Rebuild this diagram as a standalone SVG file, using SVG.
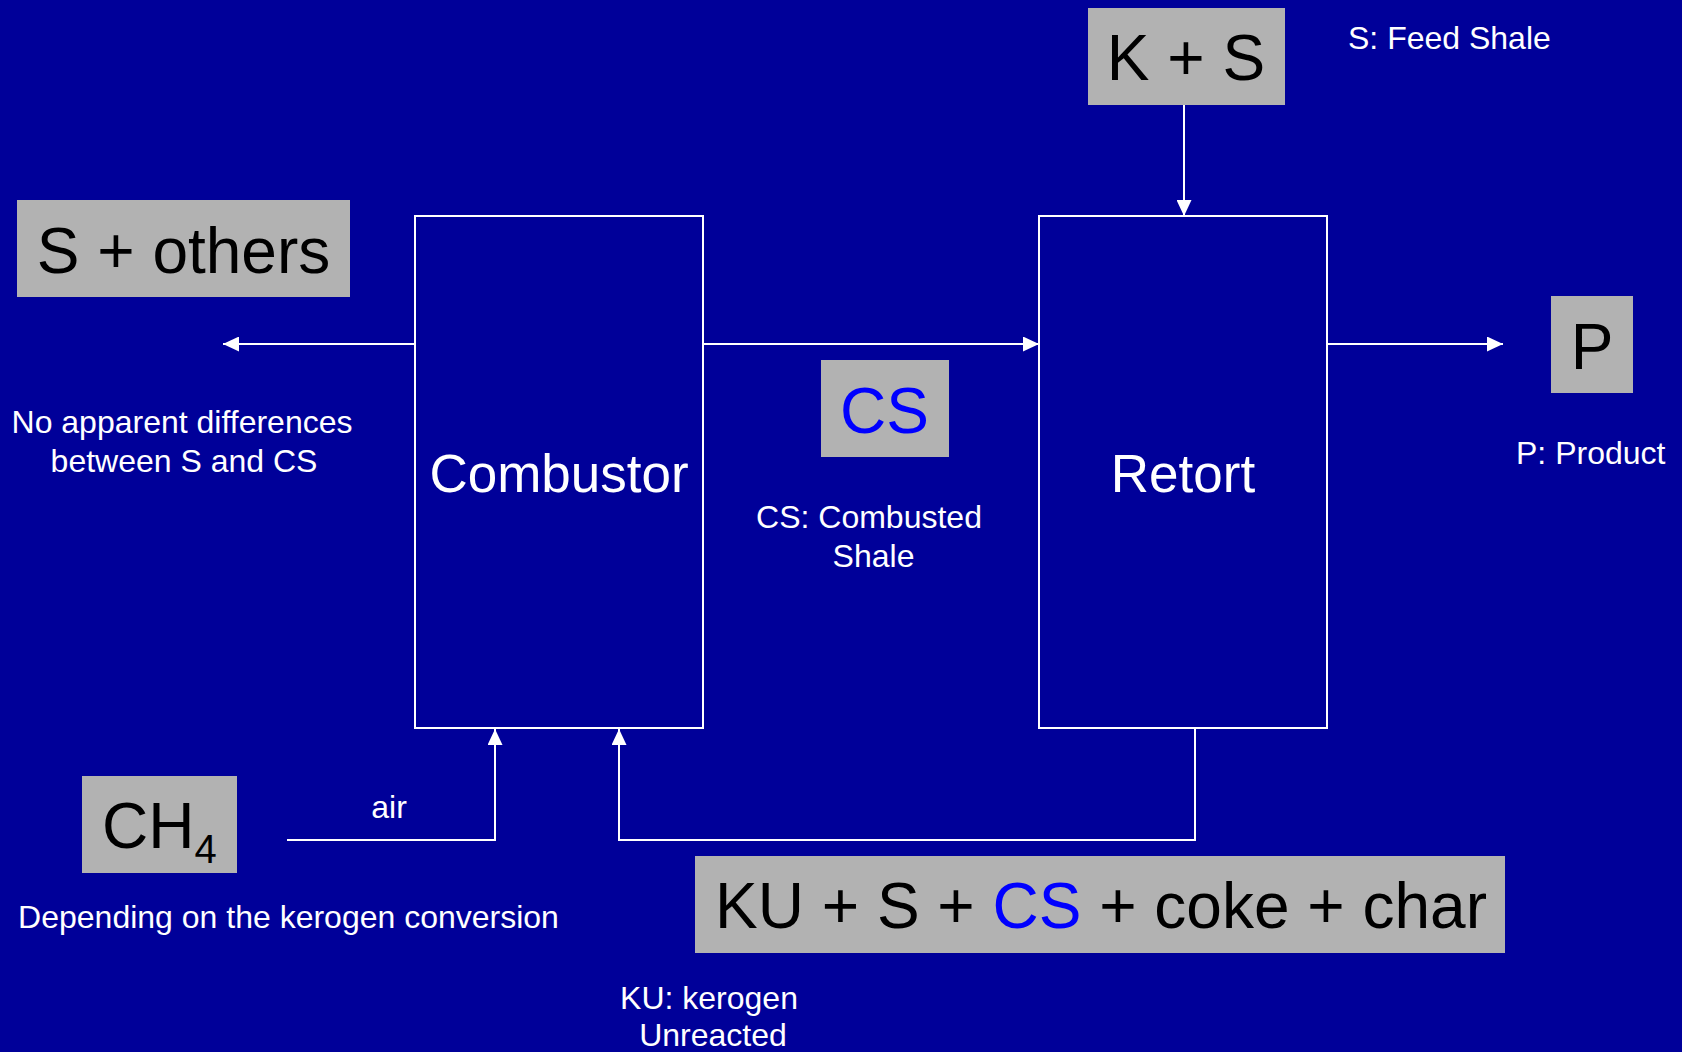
<svg xmlns="http://www.w3.org/2000/svg" width="1682" height="1052" viewBox="0 0 1682 1052">
<style>
  text { font-family: "Liberation Sans", Arial, sans-serif; }
  .box { fill: #B2B2B2; stroke: none; }
  .big { font-size: 64px; fill: #000000; text-anchor: middle; }
  .unit { fill: none; stroke: #FFFFFF; stroke-width: 2; }
  .utext { font-size: 53px; fill: #FFFFFF; text-anchor: middle; }
  .note { font-size: 32px; fill: #FFFFFF; }
  .mid { text-anchor: middle; }
  .blue { fill: #0000FF; }
  .conn { fill: none; stroke: #FFFFFF; stroke-width: 2; }
</style>
<defs>
  <marker id="arrow" markerUnits="userSpaceOnUse" markerWidth="16" markerHeight="15" refX="16" refY="7.5" orient="auto">
    <path d="M0,0 L16,7.5 L0,15 Z" fill="#FFFFFF"/>
  </marker>
</defs>
<rect x="0" y="0" width="1682" height="1052" fill="#000099"/>

<g id="connectors">
  <line class="conn" x1="415" y1="344" x2="223" y2="344" marker-end="url(#arrow)"/>
  <line class="conn" x1="703" y1="344" x2="1039" y2="344" marker-end="url(#arrow)"/>
  <line class="conn" x1="1327" y1="344" x2="1503" y2="344" marker-end="url(#arrow)"/>
  <line class="conn" x1="1184" y1="105" x2="1184" y2="216" marker-end="url(#arrow)"/>
  <polyline class="conn" points="287,840 495,840 495,729" marker-end="url(#arrow)"/>
  <polyline class="conn" points="1195,728 1195,840 619,840 619,729" marker-end="url(#arrow)"/>
</g>

<g id="combustor">
  <rect class="unit" x="415" y="216" width="288" height="512"/>
  <text class="utext" x="559" y="492">Combustor</text>
</g>

<g id="retort">
  <rect class="unit" x="1039" y="216" width="288" height="512"/>
  <text class="utext" x="1183" y="492">Retort</text>
</g>

<g id="ks">
  <rect class="box" x="1088" y="8" width="197" height="97"/>
  <text class="big" x="1186" y="80">K + S</text>
</g>
<text class="note" x="1348" y="49">S: Feed Shale</text>

<g id="s-others">
  <rect class="box" x="17" y="200" width="333" height="97"/>
  <text class="big" x="183.5" y="273">S + others</text>
</g>
<text class="note mid" x="182" y="433">No apparent differences</text>
<text class="note mid" x="184" y="472">between S and CS</text>

<g id="cs">
  <rect class="box" x="821" y="360" width="128" height="97"/>
  <text class="big blue" x="884.5" y="433">CS</text>
</g>
<text class="note mid" x="869" y="528">CS: Combusted</text>
<text class="note mid" x="873.5" y="567">Shale</text>

<g id="p">
  <rect class="box" x="1551" y="296" width="82" height="97"/>
  <text class="big" x="1592" y="369">P</text>
</g>
<text class="note" x="1516" y="464">P: Product</text>

<g id="ch4">
  <rect class="box" x="82" y="776" width="155" height="97"/>
  <text x="102" y="848" font-size="64" fill="#000000">CH<tspan font-size="40" dy="15">4</tspan></text>
</g>
<text class="note mid" x="389" y="818">air</text>
<text class="note mid" x="288.5" y="928">Depending on the kerogen conversion</text>

<g id="mix">
  <rect class="box" x="695" y="856" width="810" height="97"/>
  <text class="big" x="1101" y="928">KU + S + <tspan class="blue">CS</tspan> + coke + char</text>
</g>
<text class="note mid" x="709" y="1009">KU: kerogen</text>
<text class="note mid" x="713" y="1046">Unreacted</text>
</svg>
